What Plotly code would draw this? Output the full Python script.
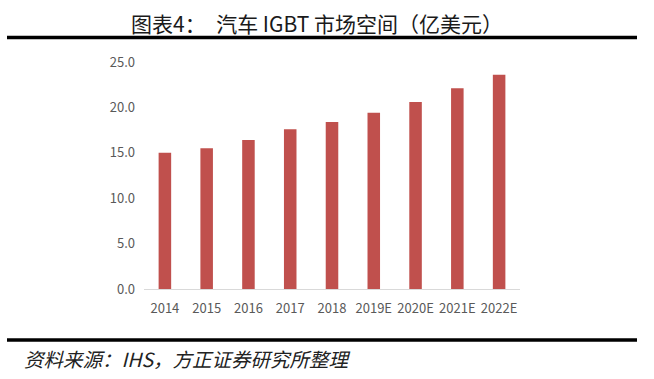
import plotly.graph_objects as go

categories = ["2014", "2015", "2016", "2017", "2018", "2019E", "2020E", "2021E", "2022E"]
values = [15.0, 15.5, 16.4, 17.6, 18.4, 19.4, 20.6, 22.1, 23.6]
y_ticks = [0, 5, 10, 15, 20, 25]
y_tick_labels = ["0.0", "5.0", "10.0", "15.0", "20.0", "25.0"]

W, H = 654, 379
L, R, T, B = 144, 134, 62, 90
pw, ph = W - L - R, H - T - B

def px(x):
    return (x - L) / pw

def py(y):
    return (H - B - y) / ph

fig = go.Figure(go.Bar(x=categories, y=values, marker_color="#C0504D",
                       marker_line_width=0, hoverinfo="skip"))

fig.update_layout(
    width=W, height=H,
    margin=dict(l=L, r=R, t=T, b=B),
    paper_bgcolor="white", plot_bgcolor="white",
    bargap=0.70,
    showlegend=False,
    font=dict(family="Noto Sans CJK SC, Noto Sans, sans-serif", color="#595959", size=13),
    xaxis=dict(showgrid=False, showline=True, linecolor="#D9D9D9", linewidth=1,
               ticks="", ticklabelstandoff=7,
               tickfont=dict(size=13, color="#595959"), fixedrange=True),
    yaxis=dict(range=[0, 25], tickvals=y_ticks, ticktext=y_tick_labels,
               showgrid=False, zeroline=False, showline=False, ticks="",
               ticklabelstandoff=8,
               tickfont=dict(size=13, color="#595959"), fixedrange=True),
    shapes=[
        dict(type="line", xref="paper", yref="paper", x0=px(7), x1=px(637),
             y0=py(37.5), y1=py(37.5), line=dict(color="black", width=3.5)),
        dict(type="line", xref="paper", yref="paper", x0=px(7), x1=px(637),
             y0=py(340), y1=py(340), line=dict(color="black", width=3.5)),
    ],
    annotations=[
        dict(text="图表4：\u3000汽车 IGBT 市场空间（亿美元）", xref="paper", yref="paper",
             x=px(317), y=py(23), xanchor="center", yanchor="middle", showarrow=False,
             font=dict(size=21, color="#1a1a1a", family="Noto Sans CJK SC, serif")),
        dict(text="<i>资料来源：IHS，方正证券研究所整理</i>", xref="paper", yref="paper",
             x=px(22), y=py(358), xanchor="left", yanchor="middle", showarrow=False,
             font=dict(size=19.5, color="#222222", family="Noto Sans CJK SC, sans-serif")),
    ],
)

fig.write_html("out.html", config={"displayModeBar": False})

with open("out.html", "r", encoding="utf-8") as f:
    html = f.read()
html = html.replace("<head>", "<head><style>html,body{margin:0;padding:0;overflow:hidden;}</style>", 1)
with open("out.html", "w", encoding="utf-8") as f:
    f.write(html)
